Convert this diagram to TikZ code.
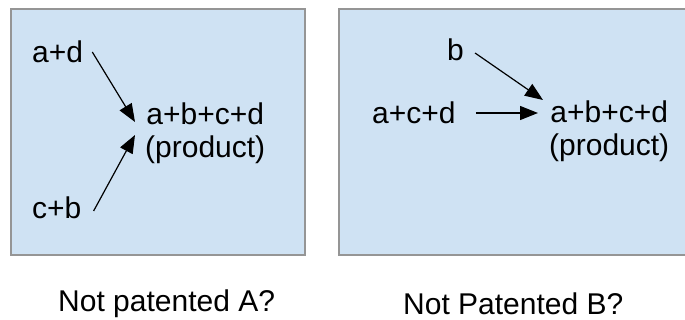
\documentclass[tikz,border=0pt]{standalone}
\usepackage{fontspec}
\setmainfont{Liberation Sans}
\usetikzlibrary{arrows.meta,calc}
\definecolor{boxfill}{HTML}{CFE2F3}
\definecolor{boxline}{HTML}{959595}
\begin{document}
\begin{tikzpicture}[x=1pt,y=-1pt,
  panel/.style={fill=boxfill,draw=boxline,line width=1.3pt},
  lbl/.style={inner sep=0pt,font=\fontsize{30}{32.5}\selectfont,text=black},
  arr/.style={-{Triangle[length=18pt,width=14pt]},line width=1.2pt,black}]
\useasboundingbox (0,0) rectangle (685,320);
\path[panel] (11,9) rectangle (305,255);
\path[panel] (339,9) rectangle (690,255);
% left panel
\node[lbl,anchor=west] (ad1) at (32,52) {a+d};
\node[lbl,anchor=west] (cb1) at (32,208) {c+b};
\node[lbl,anchor=west,align=center] (p1) at (145,133) {a+b+c+d\\(product)};
% right panel
\node[lbl,anchor=center] (b2) at (455.5,50) {b};
\node[lbl,anchor=west] (acd2) at (372,113) {a+c+d};
\node[lbl,anchor=west,align=center] (p2) at (549,131) {a+b+c+d\\(product)};
% captions
\node[lbl,anchor=west] (capA) at (58,304) {Not patented A?};
\node[lbl,anchor=west] (capB) at (403,304) {Not Patented B?};
% arrows
\draw[arr] ($(ad1.east)+(9,0)$) -- ($(p1.west)+(-10,-11)$);
\draw[arr] ($(cb1.east)+(12,3)$) -- ($(p1.west)+(-10,2)$);
\draw[arr] ($(b2.east)+(11,3)$) -- ($(p2.west)+(-6,-31)$);
\draw[arr] ($(acd2.east)+(20,0)$) -- ($(p2.west)+(-11,-18)$);
\end{tikzpicture}
\end{document}
